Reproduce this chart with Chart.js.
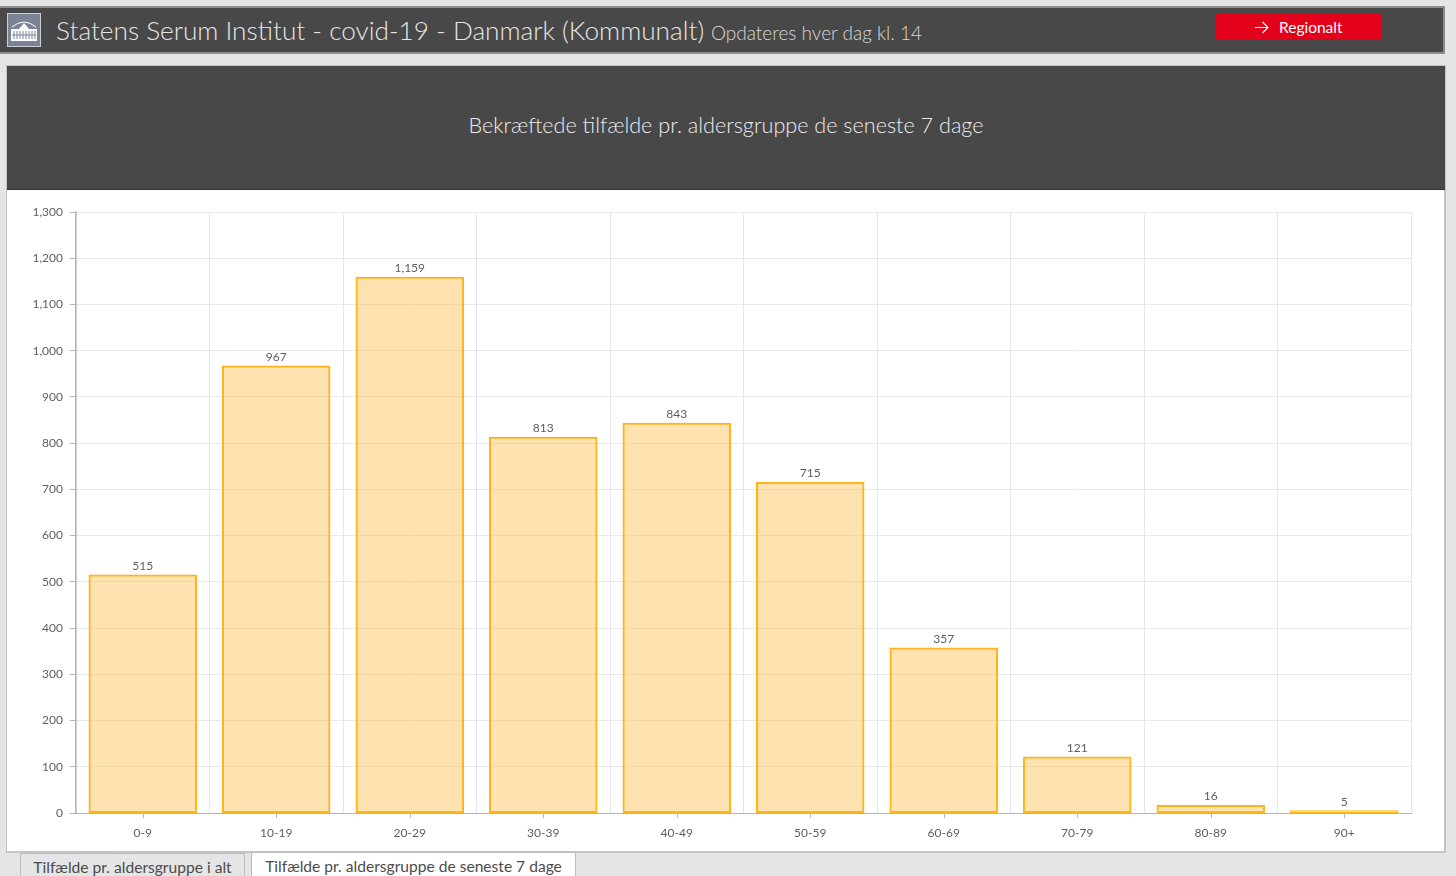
<!DOCTYPE html>
<html>
<head>
<meta charset="utf-8">
<title>Bekræftede tilfælde pr. aldersgruppe</title>
<script src="https://cdn.jsdelivr.net/npm/chart.js@4"></script>
<style>
html, body { margin: 0; padding: 0; width: 1456px; height: 876px; overflow: hidden; background: #e5e5e5; font-family: Lato, "Open Sans", sans-serif; }
.abs { position: absolute; box-sizing: border-box; white-space: nowrap; }
#topbar { left: -2px; top: 6px; width: 1447px; height: 48px; background: #484848; border: 1px solid #8c8c8c; border-width: 2px 2px 2px 0; }
#icon { left: 7px; top: 13px; width: 34px; height: 34px; background: #7b8494; border: 1px solid #c9ced6; }
#heading { left: 56px; top: 13px; font-size: 26.2px; line-height: 34px; color: #e6e6e6; font-weight: 300; }
#sub { left: 711px; top: 20px; font-size: 19px; line-height: 26px; color: #d8d8d8; font-weight: 300; }
#button { left: 1216px; top: 14px; width: 165px; height: 26px; background: #e2001a; border-radius: 1px; color: #fff; font-size: 15.5px; line-height: 26px; }
#button span { position: absolute; left: 63px; top: 0; }
#button svg { position: absolute; left: 39px; top: 7px; }
#panel { left: 6px; top: 65px; width: 1440px; height: 788px; background: #fff; border: 1px solid #c4c4c4; border-width: 1px 2px 2px 1px; }
#titlebar { left: 7px; top: 66px; width: 1438px; height: 124px; background: #484848; border-bottom: 1px solid #333; }
#title { left: 7px; top: 111px; width: 1438px; text-align: center; font-size: 21.6px; line-height: 28px; color: #ececec; font-weight: 300; }
#chartbox { left: 7px; top: 190px; width: 1438px; height: 661px; }
.tab { top: 853px; height: 23px; font-size: 15.6px; line-height: 27px; color: #4c4c4c; text-align: center; border: 1px solid #bdbdbd; border-bottom: 0; }
#tab1 { left: 20px; width: 225px; background: #e5e5e5; }
#tab2 { left: 251px; width: 325px; background: #fff; top: 852px; height: 24px; }
</style>
</head>
<body>
<div class="abs" id="topbar"></div>
<div class="abs" id="icon">
  <svg width="32" height="32" viewBox="0 0 32 32">
    <path d="M4 13 Q16 3 28 13" fill="none" stroke="#fff" stroke-width="1"/>
    <rect x="3" y="15" width="26" height="12" fill="#fff"/>
    <path d="M11 15 L16 9 L21 15 Z" fill="#fff"/>
    <path d="M6 17v8M9 17v8M12 17v8M15 17v8M18 17v8M21 17v8M24 17v8M27 17v8M4 21h24" stroke="#7b8494" stroke-width="1"/>
  </svg>
</div>
<div class="abs" id="heading">Statens Serum Institut - covid-19 - Danmark (Kommunalt)</div>
<div class="abs" id="sub">Opdateres hver dag kl. 14</div>
<div class="abs" id="button">
  <svg width="14" height="13" viewBox="0 0 14 13"><path d="M0 6.5h13M7.5 1l5.5 5.5L7.5 12" fill="none" stroke="#fff" stroke-width="1.2"/></svg>
  <span>Regionalt</span>
</div>
<div class="abs" id="panel"></div>
<div class="abs" id="titlebar"></div>
<div class="abs" id="title">Bekræftede tilfælde pr. aldersgruppe de seneste 7 dage</div>
<div class="abs" id="chartbox"><canvas id="ageChart" width="1438" height="661"></canvas></div>
<div class="abs tab" id="tab1">Tilfælde pr. aldersgruppe i alt</div>
<div class="abs tab" id="tab2">Tilfælde pr. aldersgruppe de seneste 7 dage</div>

<script>
const ageGroups = ['0-9', '10-19', '20-29', '30-39', '40-49', '50-59', '60-69', '70-79', '80-89', '90+'];
const cases = [515, 967, 1159, 813, 843, 715, 357, 121, 16, 5];
const yMax = 1300;
const yStep = 100;

const textColor = '#5f5f5f';
const labelFont = { family: 'Lato', size: 12 };

// value labels above the bars and the tick marks under the category centres
const barExtras = {
    id: 'barExtras',
    afterDatasetsDraw(chart) {
        const ctx = chart.ctx;
        const x = chart.scales.x;
        const bottom = chart.chartArea.bottom;

        ctx.save();
        ctx.strokeStyle = '#b5b5b5';
        ctx.lineWidth = 1;
        x.ticks.forEach((t, i) => {
            const px = Math.round(x.getPixelForTick(i)) + 0.5;
            ctx.beginPath();
            ctx.moveTo(px, bottom);
            ctx.lineTo(px, bottom + 5);
            ctx.stroke();
        });

        ctx.fillStyle = textColor;
        ctx.font = '12px Lato';
        ctx.textAlign = 'center';
        ctx.textBaseline = 'bottom';
        chart.getDatasetMeta(0).data.forEach((bar, i) => {
            ctx.fillText(cases[i].toLocaleString('en-US'), bar.x, bar.y - 3);
        });
        ctx.restore();
    }
};

new Chart(document.getElementById('ageChart').getContext('2d'), {
    type: 'bar',
    data: {
        labels: ageGroups,
        datasets: [{
            data: cases,
            backgroundColor: 'rgba(252, 186, 60, 0.4)',
            borderColor: '#fdb415',
            borderWidth: 1,
            borderSkipped: false,
            inflateAmount: 0.5,
            barPercentage: 0.805,
            categoryPercentage: 1
        }]
    },
    options: {
        responsive: false,
        animation: false,
        layout: { padding: { top: 22, right: 34, left: 0, bottom: 0 } },
        plugins: {
            legend: { display: false },
            tooltip: { enabled: false }
        },
        scales: {
            x: {
                afterFit(scale) { scale.height = 38; },
                grid: { color: '#e6e6e6', drawTicks: false, offset: true },
                border: { color: '#b5b5b5' },
                ticks: { color: textColor, font: labelFont, padding: 13, maxRotation: 0 }
            },
            y: {
                min: 0,
                max: yMax,
                afterFit(scale) { scale.width = 69; },
                grid: { color: '#e9e9e9', tickColor: '#b5b5b5', tickLength: 6 },
                border: { color: '#b5b5b5', width: 1.5 },
                ticks: {
                    stepSize: yStep,
                    color: textColor,
                    font: labelFont,
                    padding: 7,
                    callback: v => v.toLocaleString('en-US')
                }
            }
        }
    },
    plugins: [barExtras]
});
</script>
</body>
</html>
